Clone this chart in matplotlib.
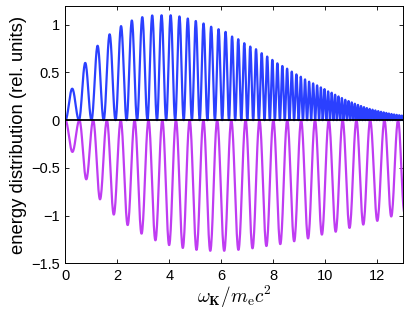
import numpy as np
import matplotlib.pyplot as plt

plt.rcParams['font.family'] = ['Liberation Sans', 'DejaVu Sans']
plt.rcParams['mathtext.fontset'] = 'cm'

# Blue curve: peak positions and heights
blue_peak_x = [0.277, 0.766, 1.242, 1.705, 2.156, 2.555, 2.967, 3.353, 3.70, 4.06,
               4.395, 4.717, 5.026, 5.32, 5.618, 5.90, 6.18, 6.42, 6.66, 6.89,
               7.124, 7.343, 7.56, 7.78, 7.97, 8.166, 8.36, 8.54, 8.72, 8.90,
               9.07, 9.23, 9.39, 9.54, 9.70, 9.84, 9.98, 10.12, 10.26, 10.39,
               10.52, 10.65, 10.78, 10.91, 11.03, 11.15, 11.27, 11.39, 11.50, 11.61,
               11.72, 11.83, 11.94, 12.05, 12.16, 12.26, 12.36, 12.46, 12.56, 12.66,
               12.76, 12.86, 12.96, 13.06]
blue_peak_y = [0.33, 0.60, 0.78, 0.90, 0.986, 1.045, 1.08, 1.098, 1.10, 1.10,
               1.088, 1.066, 1.04, 1.014, 0.98, 0.954, 0.926, 0.877, 0.849, 0.807,
               0.772, 0.744, 0.702, 0.667, 0.632, 0.596, 0.568, 0.54, 0.509, 0.48,
               0.456, 0.428, 0.404, 0.386, 0.365, 0.344, 0.326, 0.302, 0.288, 0.267,
               0.249, 0.232, 0.214, 0.20, 0.186, 0.172, 0.16, 0.148, 0.137, 0.127,
               0.118, 0.11, 0.102, 0.095, 0.088, 0.082, 0.076, 0.070, 0.065, 0.06,
               0.056, 0.052, 0.048, 0.045]

# Purple curve: trough positions and depths
purple_trough_x = [0.27, 0.805, 1.332, 1.86, 2.40, 2.93, 3.47, 3.996, 4.52, 5.05,
                   5.58, 6.11, 6.67, 7.21, 7.74, 8.28, 8.81, 9.35, 9.88, 10.41,
                   10.95, 11.47, 12.01, 12.57, 13.06]
purple_trough_y = [-0.333, -0.62, -0.83, -0.99, -1.10, -1.19, -1.26, -1.31, -1.34, -1.36,
                   -1.37, -1.37, -1.36, -1.344, -1.32, -1.30, -1.27, -1.24, -1.20, -1.17,
                   -1.13, -1.095, -1.056, -1.01, -0.97]

yticks = [-1.5, -1, -0.5, 0, 0.5, 1]
ytick_labels = ['\u22121.5', '\u22121', '\u22120.5', '0', '0.5', '1']


def lobes(px, py, n=40):
    # one sin^2 lobe per extremum, zeros halfway between neighbours
    px = np.asarray(px)
    z = np.concatenate([[0.0], (px[1:] + px[:-1]) / 2,
                        [px[-1] + (px[-1] - px[-2]) / 2]])
    xs, ys = [], []
    for k in range(len(px)):
        t = np.linspace(0, 1, n)
        xs.append(z[k] + t * (z[k + 1] - z[k]))
        ys.append(py[k] * np.sin(np.pi * t) ** 2)
    return np.concatenate(xs), np.concatenate(ys)


xb, yb = lobes(blue_peak_x, blue_peak_y)
xp, yp = lobes(purple_trough_x, purple_trough_y)

fig = plt.figure(figsize=(4.09, 3.12), dpi=100)
ax = fig.add_axes([0.160, 0.156, 0.825, 0.826])

ax.plot(xb, yb, color='#2b40ff', lw=1.6)
ax.plot(xp, yp, color='#bf3cf2', lw=1.6)
ax.axhline(0, color='black', lw=1.3)

ax.set_xlim(0, 13)
ax.set_ylim(-1.5, 1.2)
ax.set_xticks(range(0, 13, 2))
ax.set_yticks(yticks)
ax.set_yticklabels(ytick_labels)
ax.tick_params(direction='in', top=True, right=True, labelsize=10.5,
               length=3, width=0.6, pad=4)
for s in ax.spines.values():
    s.set_linewidth(0.7)

ax.set_ylabel('energy distribution (rel. units)', fontsize=13.3, labelpad=3)
ax.set_xlabel(r'$\omega_{\mathbf{K}}/m_{\rm e}c^2$', fontsize=13.8, labelpad=1)

fig.savefig('out.png', dpi=100)
